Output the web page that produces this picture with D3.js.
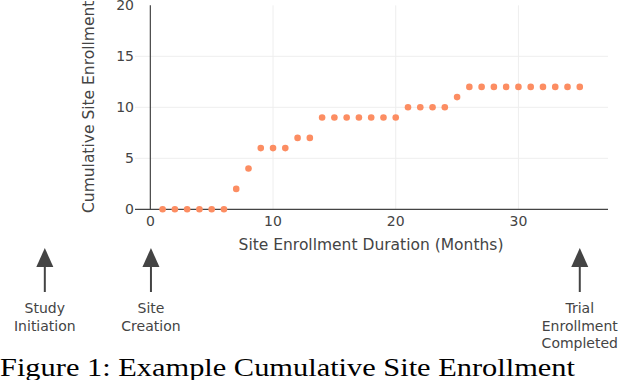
<!DOCTYPE html>
<html><head><meta charset="utf-8">
<script src="https://cdn.jsdelivr.net/npm/d3@7"></script>
<style>body{margin:0;background:#fff}svg{display:block}</style>
</head><body>
<svg id="c" width="620" height="380"></svg>
<script>
const months = d3.range(1, 36);
const enrollment = [0,0,0,0,0,0,2,4,6,6,6,7,7,9,9,9,9,9,9,9,10,10,10,10,11,12,12,12,12,12,12,12,12,12,12];
const xTicks = [0,10,20,30];
const yTicks = [0,5,10,15,20];
const markers = [
  {x:-8.6, lines:["Study","Initiation"]},
  {x:0.05, lines:["Site","Creation"]},
  {x:35, lines:["Trial","Enrollment","Completed"]}
];
const caption = "Figure 1: Example Cumulative Site Enrollment";

const svg = d3.select("#c");
const x = d3.scaleLinear().domain([-1.25, 37.3]).range([135, 608]);
const y = d3.scaleLinear().domain([0, 20]).range([209.3, 5.3]);
const font = "DejaVu Sans, Verdana, sans-serif";
const ink = "#444";

// grid
svg.append("g").selectAll("line").data(yTicks.filter(d=>d>0 && d<20)).join("line")
  .attr("x1", x.range()[0]).attr("x2", x.range()[1])
  .attr("y1", d=>y(d)).attr("y2", d=>y(d)).attr("stroke", "#eee").attr("stroke-width", 1);
svg.append("g").selectAll("line").data(xTicks.filter(d=>d>0)).join("line")
  .attr("x1", d=>x(d)).attr("x2", d=>x(d))
  .attr("y1", y(0)).attr("y2", y(20)).attr("stroke", "#eee").attr("stroke-width", 1);

// axes lines
svg.append("line").attr("x1", x.range()[0]).attr("x2", x.range()[1]).attr("y1", y(0)).attr("y2", y(0))
  .attr("stroke", ink).attr("stroke-width", 1.2);
svg.append("line").attr("x1", x(0)).attr("x2", x(0)).attr("y1", y(0)).attr("y2", y(20))
  .attr("stroke", ink).attr("stroke-width", 1.2);

// tick labels
svg.append("g").selectAll("text").data(yTicks).join("text")
  .attr("x", 134).attr("y", d=>y(d)+5).attr("text-anchor","end")
  .attr("font-family", font).attr("font-size", 14).attr("fill", ink).text(d=>d);
svg.append("g").selectAll("text").data(xTicks).join("text")
  .attr("x", d=>x(d)).attr("y", 225.5).attr("text-anchor","middle")
  .attr("font-family", font).attr("font-size", 14).attr("fill", ink).text(d=>d);

// titles
svg.append("text").attr("x", 371).attr("y", 249.5).attr("text-anchor","middle")
  .attr("font-family", font).attr("font-size", 15.5).attr("fill", ink)
  .text("Site Enrollment Duration (Months)");
svg.append("text").attr("transform", "translate(94,213) rotate(-90)").attr("text-anchor","start")
  .attr("font-family", font).attr("font-size", 15.5).attr("fill", ink)
  .text("Cumulative Site Enrollment");

// points
svg.append("g").selectAll("circle").data(months.map((m,i)=>({m, v:enrollment[i]}))).join("circle")
  .attr("cx", d=>x(d.m)).attr("cy", d=>y(d.v)).attr("r", 3.3).attr("fill", "#fc8d62");

// arrows
const ag = svg.append("g").selectAll("g").data(markers).join("g")
  .attr("transform", d=>`translate(${x(d.x)},0)`);
ag.append("line").attr("x1",0).attr("x2",0).attr("y1",262).attr("y2",292).attr("stroke", ink).attr("stroke-width",2);
ag.append("path").attr("d","M0,248 L8.5,267 L-8.5,267 Z").attr("fill", ink);
ag.each(function(d){
  const g = d3.select(this);
  d.lines.forEach((t,i)=>{
    g.append("text").attr("x",0).attr("y",313+i*17.5).attr("text-anchor","middle")
      .attr("font-family", font).attr("font-size", 14).attr("fill", ink).text(t);
  });
});

// caption
svg.append("text").attr("x", 0).attr("y", 376)
  .attr("font-family", "Liberation Serif, DejaVu Serif, serif").attr("font-size", 26).attr("fill", "#000")
  .attr("textLength", 575).attr("lengthAdjust","spacingAndGlyphs")
  .text(caption);
</script>
</body></html>
